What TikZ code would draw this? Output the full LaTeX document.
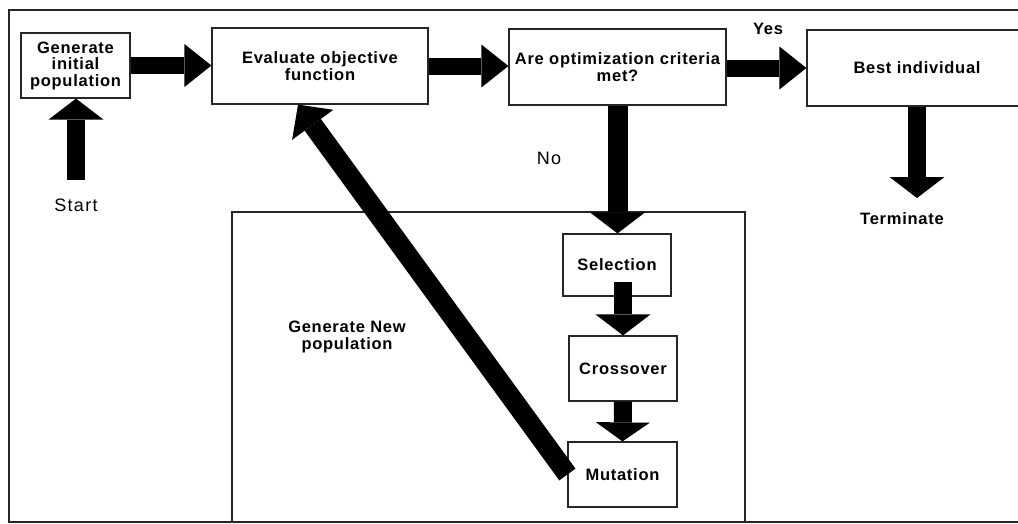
\documentclass[tikz,border=0pt]{standalone}
\usepackage{fontspec}
\setmainfont{Liberation Sans}
\newfontfamily\boxfamily{Liberation Sans}[LetterSpace=4.5]
\newfontfamily\plainfamily{Liberation Sans}[LetterSpace=7]
\usetikzlibrary{arrows.meta,calc}

\newcommand\boxfont{\boxfamily\bfseries\fontsize{16.5}{16.5}\selectfont}
\newcommand\plainfont{\plainfamily\fontsize{18}{18}\selectfont}

\tikzset{
  frame/.style={draw=black!85, line width=1.3pt},
  stepbox/.style={draw=black!85, line width=1.2pt, fill=white, inner sep=0pt,
    align=center, font=\boxfont},
  tag/.style={inner sep=0pt, align=center},
  hflow/.style={draw=black, line width=17pt,
    -{Triangle[width=43pt,length=27pt,line width=0pt]}},
  vflow/.style={draw=black, line width=18pt,
    -{Triangle[width=55pt,length=21pt,line width=0pt]}},
  backflow/.style={draw=black, line width=20pt,
    -{Triangle[width=51pt,length=25pt,line width=0pt]}},
}

\begin{document}
\begin{tikzpicture}[x=1pt,y=-1pt]
  \useasboundingbox (0,0) rectangle (1018,523);
  \clip (0,0) rectangle (1018,523);

  % outer frame and the "new population" block
  \draw[frame] (9,10) rectangle (1040,522);
  \draw[frame] (232,212) rectangle (745,522);

  % process steps
  \node[stepbox, minimum width=109pt, minimum height=65pt] (gen)   at (75.5,65.5) {Generate\\initial\\population};
  \node[stepbox, minimum width=216pt, minimum height=76pt] (eval)  at (320,66)    {Evaluate objective\\function};
  \node[stepbox, minimum width=217pt, minimum height=76pt] (crit)  at (617.5,67)  {Are optimization criteria\\met?};
  \node[stepbox, minimum width=220pt, minimum height=76pt] (best)  at (917,68)    {Best individual};
  \node[stepbox, minimum width=108pt, minimum height=62pt] (sel)   at (617,265)   {Selection};
  \node[stepbox, minimum width=108pt, minimum height=65pt] (cross) at (623,368.5) {Crossover};
  \node[stepbox, minimum width=109pt, minimum height=65pt] (mut)   at (622.5,474.5) {Mutation};

  % free ends of the entry and exit arrows
  \coordinate (startpt) at (76,180);
  \coordinate (endpt)   at (917,198);

  % flow arrows
  \draw[vflow] (startpt) -- (startpt |- gen.south);
  \draw[hflow] (gen.east) -- (gen.east -| eval.west);
  \draw[hflow] (eval.east) -- (eval.east -| crit.west);
  \draw[hflow] ([yshift=-1pt]crit.east) -- ([yshift=-1pt]crit.east -| best.west);
  \draw[vflow, line width=20pt] (crit.south) -- (crit.south |- sel.north);
  \draw[vflow] ([yshift=15pt]sel.south -| cross.north) -- (cross.north);
  \draw[vflow, -{Triangle[width=54pt,length=19pt,line width=0pt]}] (cross.south) -- (mut.north);
  \draw[vflow] (best.south) -- (endpt);
  \draw[backflow] (mut.west) -- ([xshift=-22pt]eval.south);

  % labels
  \node[tag, font=\plainfont] (startlbl) at (76,205) {Start};
  \node[tag, font=\boxfont] (yeslbl) at (768,29) {Yes};
  \node[tag, font=\plainfont] (nolbl) at (549,158) {No};
  \node[tag, font=\boxfont] (termlbl) at (902,219) {Terminate};
  \node[tag, font=\boxfont] (newpop) at (347,337) {Generate New\\population};
\end{tikzpicture}
\end{document}
